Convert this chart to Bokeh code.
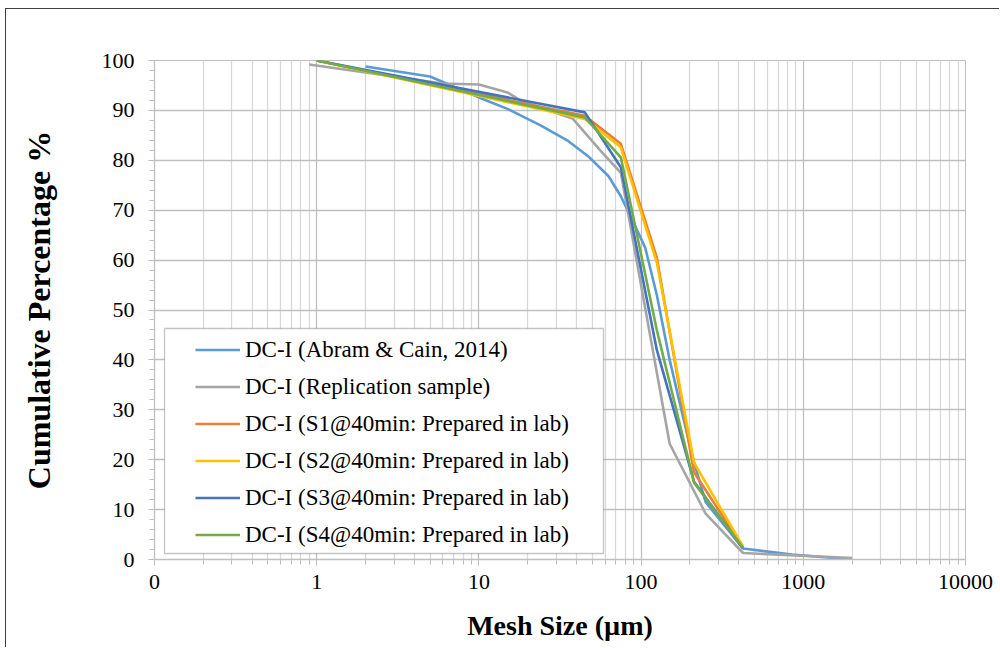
from bokeh.plotting import figure
from bokeh.models import FixedTicker, Legend, LegendItem, BoxAnnotation
from bokeh.embed import file_html
from bokeh.resources import INLINE

# ---- data ----
size_abram = [2, 5, 10, 15, 24, 35, 48, 63, 75, 90, 106, 125, 150, 180, 212, 250, 425, 850, 2000]
pct_abram = [98.8, 96.8, 92.6, 90.3, 87.0, 84.0, 80.6, 76.8, 72.8, 67.5, 62.5, 53.0, 40.0, 29.0, 19.5, 11.5, 2.2, 1.0, 0.0]

size_repl = [0.9, 6, 10, 15, 18, 38, 56, 75, 150, 250, 425, 2000]
pct_repl = [99.2, 95.4, 95.2, 93.6, 92.0, 88.3, 82.0, 77.5, 23.2, 9.2, 1.3, 0.3]

size_lab = [1, 45, 75, 125, 212, 425]
pct_s1 = [100, 88.9, 83.3, 60.5, 17.5, 2.4]
pct_s2 = [100, 88.3, 82.6, 59.5, 19.4, 2.6]
pct_s3 = [100, 89.6, 78.6, 42.0, 15.6, 2.2]
pct_s4 = [100, 88.6, 80.6, 46.0, 15.4, 2.3]

labels = [
    "DC-I (Abram & Cain, 2014)",
    "DC-I (Replication sample)",
    "DC-I (S1@40min: Prepared in lab)",
    "DC-I (S2@40min: Prepared in lab)",
    "DC-I (S3@40min: Prepared in lab)",
    "DC-I (S4@40min: Prepared in lab)",
]
colors = ["#5B9BD5", "#A5A5A5", "#ED7D31", "#FFC000", "#4472C4", "#70AD47"]

x_major = [0.1, 1, 10, 100, 1000, 10000]
x_labels = ["0", "1", "10", "100", "1000", "10000"]
y_major = list(range(0, 101, 10))

FONT = "Liberation Serif"

p = figure(width=994, height=639, x_axis_type="log", x_range=(0.1, 10000), y_range=(0, 100),
           output_backend="svg", toolbar_location=None,
           min_border_left=148, min_border_right=35, min_border_top=51, min_border_bottom=89,
           styles={"margin-left": "5px", "margin-top": "8px",
                   "border-left": "1px solid #404040", "border-top": "1px solid #404040"})
p.background_fill_color = "white"
p.border_fill_color = "white"
p.outline_line_color = "#BFBFBF"

series = [
    (size_abram, pct_abram),
    (size_repl, pct_repl),
    (size_lab, pct_s1),
    (size_lab, pct_s2),
    (size_lab, pct_s3),
    (size_lab, pct_s4),
]
renderers = []
for (xs, ys), c in zip(series, colors):
    r = p.line(xs, ys, line_color=c, line_width=2.6)
    renderers.append(r)

# x axis
x_minor = [m * 10.0 ** e for e in range(-1, 4) for m in range(2, 10)]
xt = FixedTicker(ticks=x_major, minor_ticks=x_minor)
p.xaxis.ticker = xt
p.xaxis.major_label_overrides = {t: l for t, l in zip(x_major, x_labels)}
p.xgrid.ticker = xt
p.xgrid.grid_line_color = "#BFBFBF"
p.xgrid.minor_grid_line_color = "#D9D9D9"
p.xgrid.grid_line_width = 1.3
p.xgrid.minor_grid_line_width = 1.3

# y axis
yt = FixedTicker(ticks=y_major, minor_ticks=list(range(0, 101, 2)))
p.yaxis.ticker = yt
p.ygrid.ticker = yt
p.ygrid.grid_line_color = "#BFBFBF"
p.ygrid.grid_line_width = 1.3

for ax in (p.xaxis, p.yaxis):
    ax.axis_line_color = "#BFBFBF"
    ax.axis_line_width = 1.3
    ax.major_tick_line_color = "#BFBFBF"
    ax.minor_tick_line_color = "#BFBFBF"
    ax.major_tick_in = 0
    ax.minor_tick_in = 0
    ax.major_tick_out = 6
    ax.minor_tick_out = 5
    ax.major_label_text_font = FONT
    ax.major_label_text_font_size = "22px"
    ax.major_label_text_color = "#000000"
    ax.axis_label_text_font = FONT
    ax.axis_label_text_font_style = "bold"
    ax.axis_label_text_color = "#000000"

p.xaxis.axis_label = "Mesh Size (µm)"
p.xaxis.axis_label_text_font_size = "28px"
p.xaxis.major_label_standoff = 9
p.xaxis.axis_label_standoff = 18

p.yaxis.axis_label = "Cumulative Percentage %"
p.yaxis.axis_label_text_font_size = "32px"
p.yaxis.major_label_standoff = 14
p.yaxis.axis_label_standoff = 42

# legend box (canvas coordinates of the figure)
lbox = BoxAnnotation(left=157, right=596, top=318, bottom=543,
                     left_units="canvas", right_units="canvas",
                     top_units="canvas", bottom_units="canvas",
                     fill_color="white", fill_alpha=1, line_color="#404040", line_width=1.3)
p.add_layout(lbox)

legend = Legend(items=[LegendItem(label=l, renderers=[r]) for l, r in zip(labels, renderers)],
                location=(41, 6), padding=0, spacing=0, margin=0,
                label_height=37, glyph_height=37, glyph_width=45, label_standoff=5,
                label_text_font=FONT, label_text_font_size="23px", label_text_color="#000000",
                border_line_alpha=0, background_fill_alpha=0)
p.add_layout(legend)

open("out.html", "w").write(file_html(p, INLINE))
